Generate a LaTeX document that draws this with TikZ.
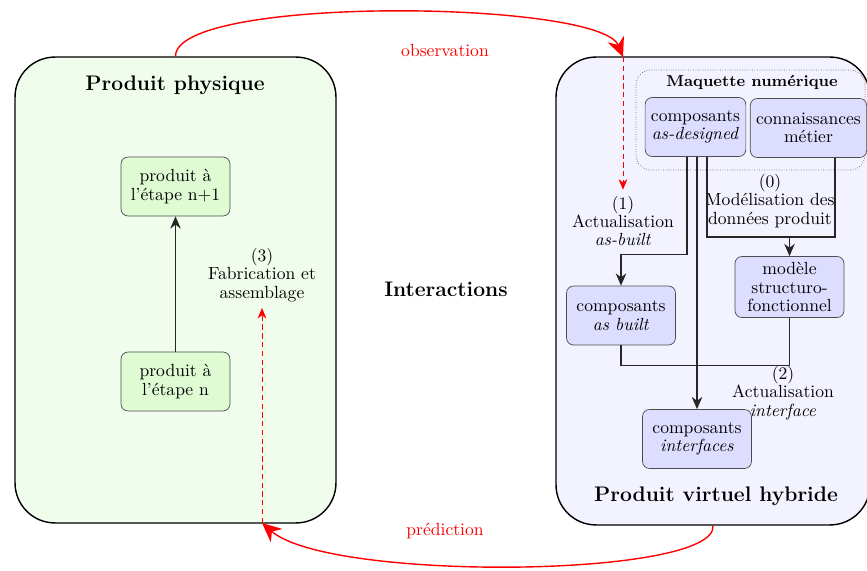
\documentclass[tikz,border=0pt]{standalone}
\usepackage{fontspec}
\usetikzlibrary{arrows.meta}

\definecolor{fondvert}{RGB}{241,253,236}
\definecolor{boitevert}{RGB}{222,251,212}
\definecolor{fondbleu}{RGB}{243,243,255}
\definecolor{boitebleu}{RGB}{221,221,255}

\tikzset{
  cadre/.style={draw=black, thick, rounded corners=0.8cm},
  titre/.style={font=\large\bfseries},
  etape/.style={draw=black!70, fill=boitevert, rounded corners=4pt, minimum width=2.18cm,
                minimum height=1.18cm, align=center, font=\fontsize{10}{10.5}\selectfont},
  composant/.style={etape, fill=boitebleu},
  legende/.style={align=center, font=\fontsize{10}{10.5}\selectfont},
  lien/.style={draw=black!85, line width=0.6pt},
  fleche/.style={lien, -{Stealth[length=7pt,width=6pt]}},
  flux/.style={red, thick, -{Stealth[length=11pt,width=10pt]}},
  pointille/.style={red, densely dashed, -{Stealth[length=6pt,width=5pt]}},
}

\begin{document}
\begin{tikzpicture}[x=0.02cm,y=-0.02cm]
                \useasboundingbox (0,0) rectangle (867,571);
                \clip (0,0) rectangle (867,571);

                % les deux produits
                \node (physique) at (175.5,290) [cadre, fill=fondvert, minimum width=6.42cm, minimum height=9.32cm] {};
                \node (virtuel) at (713,291) [cadre, fill=fondbleu, minimum width=6.28cm, minimum height=9.36cm] {};
                \draw [black!60, densely dotted, rounded corners=0.3cm] (636,70) rectangle (865,170);

                \node (tphysique) at (175,85) [titre] {Produit physique};
                \node (tvirtuel) at (716,496) [titre] {Produit virtuel hybride};
                \node (tmaquette) at (752,82) [font=\small\bfseries] {Maquette numérique};
                \node (interactions) at (446,289) [titre] {Interactions};

                % produit physique
                \node (suivant) at (175.5,186.5) [etape] {produit à\\l’étape n+1};
                \node (courant) at (175.5,381.5) [etape] {produit à\\l’étape n};
                \draw [fleche] (courant) -- (suivant);
                \node (fab) at (262,275) [legende] {(3)\\Fabrication et\\assemblage};

                % produit virtuel
                \node (designed) at (695.5,127) [composant, minimum width=1.98cm] {composants\\\textit{as-designed}};
                \node (metier) at (808.5,128) [composant] {connaissances\\métier};
                \node (modele) at (789.5,287) [composant] {modèle\\structuro-\\fonctionnel};
                \node (built) at (621,315.5) [composant] {composants\\\textit{as built}};
                \node (interfaces) at (697,439) [composant] {composants\\\textit{interfaces}};

                \node (act1) at (623,221) [legende] {(1)\\Actualisation\\\textit{as-built}};
                \node (model0) at (770,201) [legende] {(0)\\Modélisation des\\données produit};
                \node (act2) at (783,393) [legende] {(2)\\Actualisation\\\textit{interface}};

                \draw [fleche] ([xshift=-0.17cm]designed.south) -- ++(0,98) -| (built.north);
                \draw [fleche] (designed.south -| interfaces.north) -- (interfaces.north);
                \coordinate (jonction) at ([xshift=0.53cm]metier.south |- 0,237);
                \draw [lien] ([xshift=0.23cm]designed.south) |- (jonction) -- ([xshift=0.53cm]metier.south);
                \draw [fleche] (modele.north |- jonction) -- (modele.north);
                \draw [lien] (built.south) -- ++(0,20) -| (modele.south);

                % interactions
                \coordinate (obs) at (623,57);
                \coordinate (pred) at (262,523);
                \draw [flux] (physique.north) .. controls (175,-5) and (600,0) .. (obs);
                \draw [pointille] (obs) -- (act1.north);
                \draw [flux] (virtuel.south) .. controls (718,578) and (330,582) .. (pred);
                \draw [pointille] (pred) -- (fab.south);
                \node (observation) at (445,51) [red] {observation};
                \node (prediction) at (445,531) [red] {prédiction};
            \end{tikzpicture}
\end{document}
